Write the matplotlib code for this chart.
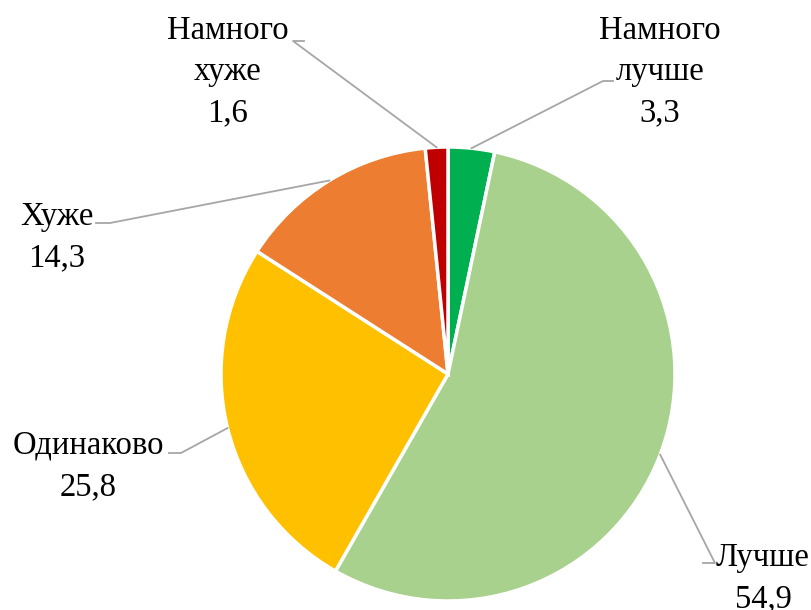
import matplotlib.pyplot as plt
import numpy as np

# data
labels = ['Намного\nлучше', 'Лучше', 'Одинаково', 'Хуже', 'Намного\nхуже']
values = [3.3, 54.9, 25.8, 14.3, 1.6]
value_text = ['3,3', '54,9', '25,8', '14,3', '1,6']
colors = ['#00B050', '#A9D18E', '#FFC000', '#ED7D31', '#C00000']

# label block centres and leader line elbows (pixel coords, y from top)
label_pos = [(660, 72), (763, 578), (88, 466), (57, 237), (228, 72)]
elbow = [(603, 81), (715, 563), (181, 453), (110, 223), (293, 41)]
elbow_end = [(613, 81), (703, 563), (169, 453), (96, 223), (304, 41)]

W, H = 811, 610
fig = plt.figure(figsize=(W / 100, H / 100), dpi=100)
ax = fig.add_axes([0, 0, 1, 1])

cx, cy, r = 448, H - 374, 227
wedges, _ = ax.pie(values, colors=colors, startangle=90, counterclock=False,
                   center=(cx, cy), radius=r, frame=True,
                   wedgeprops=dict(edgecolor='white', linewidth=2.5))
ax.set_xlim(0, W)
ax.set_ylim(0, H)
ax.set_aspect('equal')
ax.axis('off')

# leader lines from the middle of each slice edge, then the labels
for w, lab, val, pos, e1, e2 in zip(wedges, labels, value_text, label_pos, elbow, elbow_end):
    ang = np.deg2rad((w.theta1 + w.theta2) / 2)
    px, py = cx + r * np.cos(ang), cy + r * np.sin(ang)
    ax.plot([px, e1[0], e2[0]], [py, H - e1[1], H - e2[1]],
            color='#A6A6A6', linewidth=1.3, zorder=1)
    ax.text(pos[0], H - pos[1], lab + '\n' + val, ha='center', va='center',
            multialignment='center', fontsize=23.5, linespacing=1.45,
            family='Liberation Serif', color='black')

fig.savefig('out.png', dpi=100)
